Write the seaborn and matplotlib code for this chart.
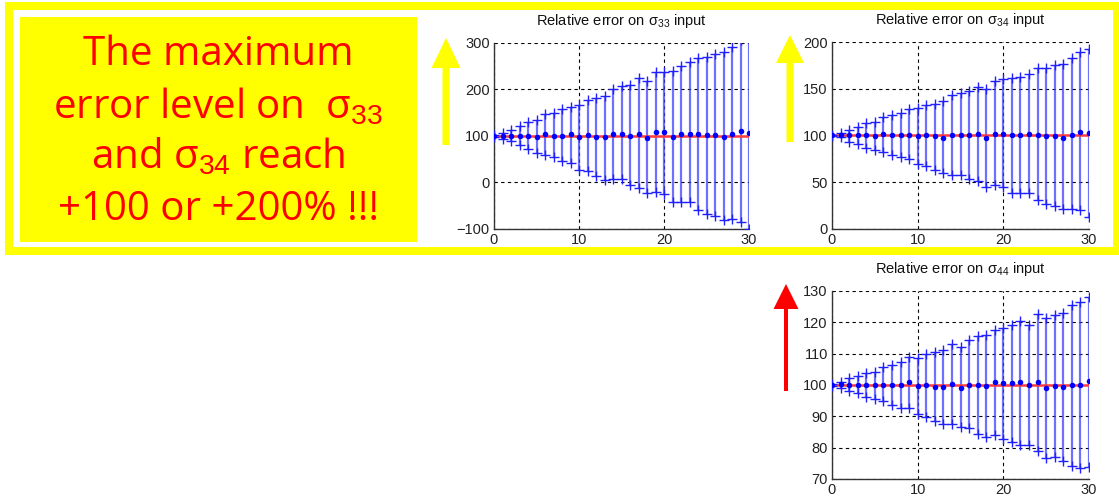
import numpy as np
import pandas as pd
import matplotlib
matplotlib.use("Agg")
import matplotlib.pyplot as plt
from matplotlib.patches import Rectangle, FancyArrow
import seaborn as sns

# ---- data: Monte-Carlo relative error (%) vs. noise step ----
steps = list(range(31))

s33_mean = [100, 100, 100, 100, 100, 98, 103, 100, 100, 103, 98, 101, 98, 98, 103, 105,
            100, 105, 95, 108, 108, 97, 103, 105, 104, 101, 101, 97, 104, 111, 106]
s33_upper = [102, 107, 113, 121, 129, 134, 146, 149, 157, 163, 166, 177, 182, 186, 200, 207,
             209, 224, 218, 237, 237, 239, 250, 259, 268, 270, 276, 281, 290, 305, 315]
s33_lower = [98, 93, 88, 81, 72, 64, 59, 54, 46, 41, 27, 24, 14, 6, 7, 7,
             -5, -12, -23, -21, -24, -41, -41, -43, -60, -67, -73, -80, -79, -84, -99]

s34_mean = [100, 101, 100, 100, 100, 99, 102, 100, 100, 101, 99, 100, 99, 97, 101, 101,
            100, 102, 97, 102, 102, 100, 101, 102, 101, 99, 99, 97, 101, 104, 103]
s34_upper = [101, 103, 106, 109, 113, 114, 120, 122, 124, 128, 129, 133, 134, 137, 143, 145,
             148, 152, 150, 158, 160, 162, 163, 166, 172, 172, 175, 177, 183, 189, 193]
s34_lower = [99, 98, 93, 91, 87, 85, 82, 79, 77, 75, 69, 67, 63, 60, 58, 58,
             53, 51, 45, 47, 45, 38, 38, 38, 31, 27, 25, 21, 21, 20, 13]

s44_mean = [100, 100.3, 100, 100, 100, 100, 100, 100, 100, 100.9, 99.6, 100, 99.3, 99.3, 100.4, 99.2,
            100, 100, 99.8, 100.8, 100.5, 100.5, 100.8, 100.1, 100.8, 98.9, 99.7, 99.3, 100, 100, 101.3]
s44_upper = [100.2, 101.1, 102.1, 102.9, 103.8, 104.2, 105.8, 106.3, 107.4, 109.0, 108.6, 110.0,
             110.4, 111.1, 113.0, 112.0, 114.3, 115.7, 116.1, 117.6, 118.3, 119.1, 120.4, 119.1,
             122.6, 121.5, 122.4, 122.9, 125.4, 126.6, 128.2]
s44_lower = [99.8, 99.0, 98.2, 97.4, 96.3, 95.5, 94.8, 93.5, 92.8, 92.5, 90.7, 89.9, 88.5, 87.6,
             87.6, 86.6, 86.3, 84.3, 83.3, 84.2, 82.8, 81.8, 81.0, 81.0, 78.8, 76.7, 77.0, 75.9,
             74.2, 73.5, 73.9]

reference_value = 100

panels = [
    dict(name="33", mean=s33_mean, upper=s33_upper, lower=s33_lower,
         ylim=(-100, 300), yticks=[-100, 0, 100, 200, 300]),
    dict(name="34", mean=s34_mean, upper=s34_upper, lower=s34_lower,
         ylim=(0, 200), yticks=[0, 50, 100, 150, 200]),
    dict(name="44", mean=s44_mean, upper=s44_upper, lower=s44_lower,
         ylim=(70, 130), yticks=[70, 80, 90, 100, 110, 120, 130]),
]
xticks = [0, 10, 20, 30]

message_lines = [
    "The maximum",
    "error level on  σ$_{33}$",
    "and σ$_{34}$ reach",
    "+100 or +200% !!!",
]

# ---- styling ----
sns.set_theme(style="white")
plt.rcParams["font.family"] = ["Liberation Sans", "DejaVu Sans"]
plt.rcParams["mathtext.fontset"] = "custom"
plt.rcParams["mathtext.rm"] = "Liberation Sans"
plt.rcParams["mathtext.it"] = "Liberation Sans"

W, H, DPI = 1119, 503, 100
fig = plt.figure(figsize=(W / DPI, H / DPI), dpi=DPI)
fig.patch.set_facecolor("white")


def px_axes(left, top, right, bottom):
    return fig.add_axes([left / W, 1 - bottom / H, (right - left) / W, (bottom - top) / H])


boxes = [(494, 42.7, 749, 229), (832, 42, 1089, 229), (832, 291, 1089, 479)]

for spec, box in zip(panels, boxes):
    ax = px_axes(*box)
    df = pd.DataFrame({"step": steps, "mean": spec["mean"],
                       "upper": spec["upper"], "lower": spec["lower"]})
    ax.vlines(df["step"], df["lower"], df["upper"], color="#4040ff", alpha=0.75,
              linewidth=1.6, zorder=2, clip_on=True)
    ax.plot([steps[0], steps[-1]], [reference_value, reference_value],
            color="#ff3b3b", linewidth=1.8, zorder=3)
    long = pd.concat([df[["step", "upper"]].rename(columns={"upper": "v"}),
                      df[["step", "lower"]].rename(columns={"lower": "v"})])
    sns.scatterplot(data=long, x="step", y="v", marker="+", s=60, color="#2020ff",
                    linewidth=1.0, ax=ax, zorder=4, legend=False)
    sns.scatterplot(data=df, x="step", y="mean", marker="o", s=16, color="#0000ff",
                    edgecolor="#0000ff", linewidth=0, ax=ax, zorder=5, legend=False)

    ax.set_xlim(0, 30)
    ax.set_ylim(*spec["ylim"])
    ax.set_xticks(xticks)
    ax.set_yticks(spec["yticks"])
    ax.set_xlabel("")
    ax.set_ylabel("")
    ax.grid(True, color="black", linestyle=(0, (3, 3)), linewidth=0.8)
    ax.set_axisbelow(True)
    for side in ("top", "right"):
        ax.spines[side].set_visible(False)
    for side in ("left", "bottom"):
        ax.spines[side].set_color("#333333")
        ax.spines[side].set_linewidth(1.0)
    ax.tick_params(length=0, pad=3, labelsize=10.5, labelcolor="#222222")
    ax.set_title("Relative error on σ$_{%s}$ input" % spec["name"],
                 fontsize=10.5, color="#111111", pad=13)

inch = fig.dpi_scale_trans


def to_in(x, y):
    return x / DPI, (H - y) / DPI


# outer yellow frame and highlighted message box
x0, y0 = to_in(9, 251)
fig.patches.append(Rectangle((x0, y0), (1117 - 9) / DPI, (251 - 6) / DPI, fill=False,
                             edgecolor="#ffff00", linewidth=8 * 72 / DPI, transform=inch,
                             zorder=0))
bx, by = to_in(20, 242)
fig.patches.append(Rectangle((bx, by), (417 - 20) / DPI, (242 - 17) / DPI,
                             facecolor="#ffff00", edgecolor="none", transform=inch, zorder=0))

for line, base in zip(message_lines, [65, 118, 168, 220]):
    tx, ty = to_in(218, base)
    fig.text(tx, ty, line, transform=inch, ha="center", va="baseline",
             fontsize=29, color="#ff0000", fontweight="medium",
             family=["Open Sans", "DejaVu Sans"])

# upward arrows beside the panels
for (ax_x, y_tail, y_tip, shaft, head_w, head_l, col) in [
        (446, 145, 38, 7, 29, 30, "#ffff00"),
        (790, 142, 35, 7, 28, 28, "#ffff00"),
        (786, 391, 284, 4, 25, 25, "#ff0000")]:
    sx, sy = to_in(ax_x, y_tail)
    fig.patches.append(FancyArrow(sx, sy, 0, (y_tail - y_tip) / DPI, width=shaft / DPI,
                                  head_width=head_w / DPI, head_length=head_l / DPI,
                                  length_includes_head=True, color=col, linewidth=0,
                                  transform=inch))

fig.savefig("out.png", dpi=DPI)
